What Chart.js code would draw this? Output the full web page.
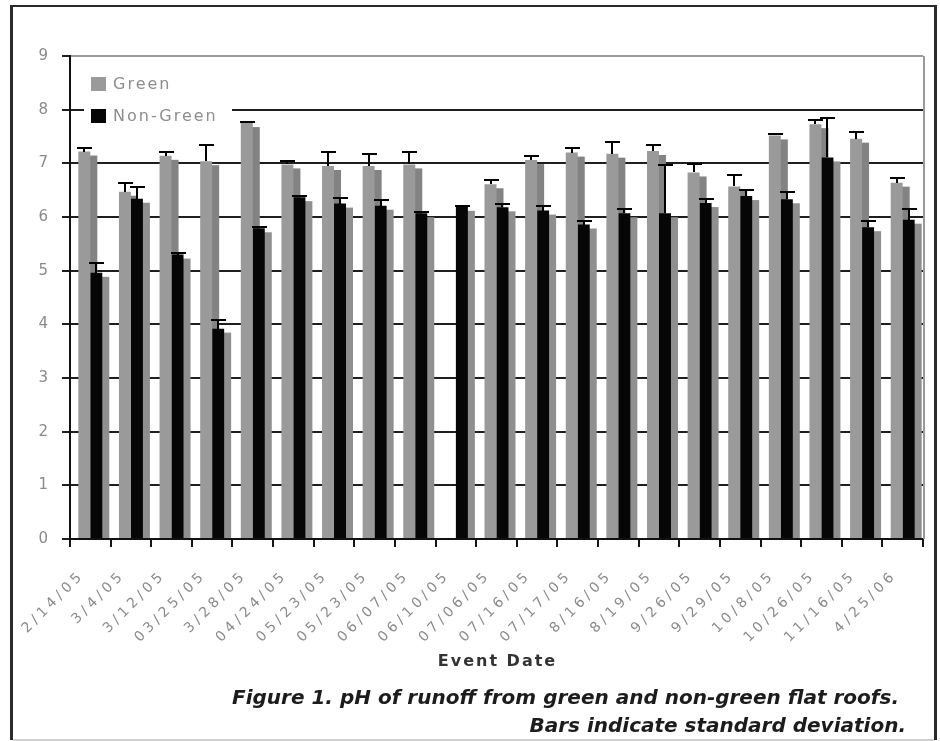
<!DOCTYPE html>
<html>
<head>
<meta charset="utf-8">
<script src="https://cdn.jsdelivr.net/npm/chart.js@4.4.1/dist/chart.umd.min.js"></script>
<style>
html,body{margin:0;padding:0;background:#fff;overflow:hidden}
#wrap{position:relative;width:940px;height:741px}
</style>
</head>
<body>
<div id="wrap"><canvas id="c"></canvas></div>
<script>
// ---- data ----
const categories = ['2/14/05','3/4/05','3/12/05','03/25/05','3/28/05','04/24/05','05/23/05','05/23/05','06/07/05','06/10/05','07/06/05','07/16/05','07/17/05','8/16/05','8/19/05','9/26/05','9/29/05','10/8/05','10/26/05','11/16/05','4/25/06'];
const greenPH    = [7.22, 6.47, 7.14, 7.04, 7.75, 6.98, 6.95, 6.95, 6.98, null, 6.61, 7.06, 7.20, 7.18, 7.23, 6.83, 6.57, 7.52, 7.73, 7.46, 6.64];
const greenSD    = [0.06, 0.17, 0.08, 0.31, 0.02, 0.06, 0.27, 0.22, 0.24, null, 0.08, 0.08, 0.08, 0.22, 0.12, 0.16, 0.21, 0.03, 0.08, 0.13, 0.09];
const nonGreenPH = [4.96, 6.34, 5.30, 3.92, 5.79, 6.37, 6.25, 6.21, 6.07, 6.19, 6.18, 6.12, 5.86, 6.07, 6.07, 6.26, 6.39, 6.33, 7.11, 5.81, 5.95];
const nonGreenSD = [0.19, 0.21, 0.03, 0.17, 0.02, 0.02, 0.11, 0.11, 0.02, 0.02, 0.06, 0.08, 0.07, 0.08, 0.89, 0.07, 0.12, 0.13, 0.74, 0.12, 0.20];
const seriesNames = ['Green', 'Non-Green'];
const yMin = 0, yMax = 9, yStep = 1;
const xAxisTitle = 'Event Date';
const captionLines = ['Figure 1. pH of runoff from green and non-green flat roofs.', 'Bars indicate standard deviation.'];

// ---- styles ----
const FONT = "'DejaVu Sans', Verdana, sans-serif";
const barColors = ['#9a9a9a', '#060606'];
const shadowColors = ['#838383', '#8f8f8f'];
const SHADOW_DX = 7, SHADOW_DY = 4;
const TICK_SPACING = '4px';

const decoPlugin = {
  id: 'deco',
  beforeUpdate(chart) { chart.ctx.letterSpacing = TICK_SPACING; },
  beforeLayout(chart) { chart.ctx.letterSpacing = TICK_SPACING; },
  beforeDraw(chart) {
    const ctx = chart.ctx;
    ctx.save();
    ctx.letterSpacing = '0px';
    ctx.fillStyle = '#fff';
    ctx.fillRect(0, 0, chart.width, chart.height);
    ctx.restore();
    ctx.letterSpacing = TICK_SPACING;
  },
  beforeDatasetsDraw(chart) {
    const ctx = chart.ctx, a = chart.chartArea;
    ctx.save();
    ctx.letterSpacing = '0px';
    // plot area right border
    ctx.strokeStyle = '#9a9a9a';
    ctx.lineWidth = 2;
    ctx.beginPath();
    ctx.moveTo(a.right + 1, a.top);
    ctx.lineTo(a.right + 1, a.bottom);
    ctx.stroke();
    // legend (white box over the grid)
    const lx = a.left + 14, ly = a.top + 9;
    ctx.fillStyle = '#fff';
    ctx.fillRect(lx, ly, 148, 62);
    ctx.font = '16px ' + FONT;
    ctx.letterSpacing = '2px';
    ctx.textBaseline = 'middle';
    ctx.textAlign = 'left';
    chart.data.datasets.forEach((ds, di) => {
      const cy = a.top + 28 + di * 32;
      ctx.fillStyle = ds.backgroundColor;
      ctx.fillRect(a.left + 21, cy - 7, 15, 14);
      ctx.fillStyle = '#8e8e8e';
      ctx.fillText(ds.label, a.left + 43, cy + 1);
    });
    // 3D shadows of bars
    chart.data.datasets.forEach((ds, di) => {
      const meta = chart.getDatasetMeta(di);
      ctx.fillStyle = shadowColors[di];
      meta.data.forEach((bar, i) => {
        if (ds.data[i] == null) return;
        const w = bar.width;
        ctx.fillRect(bar.x - w / 2 + SHADOW_DX, bar.y + SHADOW_DY, w, bar.base - bar.y - SHADOW_DY);
      });
    });
    ctx.restore();
    ctx.letterSpacing = TICK_SPACING;
  },
  afterDatasetsDraw(chart) {
    const ctx = chart.ctx, ys = chart.scales.y;
    ctx.save();
    ctx.strokeStyle = '#000';
    ctx.lineWidth = 2;
    chart.data.datasets.forEach((ds, di) => {
      const meta = chart.getDatasetMeta(di);
      meta.data.forEach((bar, i) => {
        const v = ds.data[i], sd = ds.sd[i];
        if (v == null || sd == null) return;
        const top = Math.round(ys.getPixelForValue(v + sd));
        const cx = Math.round(bar.x);
        ctx.beginPath();
        ctx.moveTo(cx, Math.round(bar.y));
        ctx.lineTo(cx, top);
        ctx.moveTo(cx - 7, top);
        ctx.lineTo(cx + 8, top);
        ctx.stroke();
      });
    });
    ctx.restore();
  },
  afterDraw(chart) {
    const ctx = chart.ctx, a = chart.chartArea;
    ctx.save();
    // x axis title
    ctx.letterSpacing = '2px';
    ctx.font = 'bold 16px ' + FONT;
    ctx.fillStyle = '#333';
    ctx.textAlign = 'center';
    ctx.textBaseline = 'middle';
    ctx.fillText(xAxisTitle, (a.left + a.right) / 2 + 1, 662);
    // caption
    ctx.letterSpacing = '0px';
    ctx.font = 'italic bold 20px ' + FONT;
    ctx.fillStyle = '#1c1c1c';
    ctx.textAlign = 'right';
    ctx.textBaseline = 'alphabetic';
    ctx.fillText(captionLines[0], 899, 704);
    ctx.fillText(captionLines[1], 906, 732);
    // outer frame
    ctx.fillStyle = '#2a2a2a';
    ctx.fillRect(10, 5, 3, 735);
    ctx.fillRect(10, 5, 927, 2);
    ctx.fillRect(934, 5, 3, 735);
    ctx.fillStyle = '#cfcfcf';
    ctx.fillRect(13, 739, 921, 2);
    ctx.restore();
  }
};

new Chart(document.getElementById('c'), {
  type: 'bar',
  data: {
    labels: categories,
    datasets: [
      { label: seriesNames[0], data: greenPH, sd: greenSD, backgroundColor: barColors[0], borderWidth: 0,
        categoryPercentage: 0.59, barPercentage: 1.0 },
      { label: seriesNames[1], data: nonGreenPH, sd: nonGreenSD, backgroundColor: barColors[1], borderWidth: 0,
        categoryPercentage: 0.59, barPercentage: 1.0 }
    ]
  },
  options: {
    responsive: true,
    maintainAspectRatio: false,
    animation: false,
    devicePixelRatio: 1,
    layout: { padding: { left: 12, right: 17, top: 56, bottom: 69 } },
    plugins: {
      legend: { display: false },
      tooltip: { enabled: false },
      title: { display: false }
    },
    scales: {
      x: {
        afterFit(scale) { scale.height = 133; },
        grid: { display: true, drawOnChartArea: false, drawTicks: true, tickLength: 8, color: '#151515', lineWidth: 2 },
        border: { display: true, color: '#111', width: 2 },
        ticks: {
          autoSkip: false, maxRotation: 45, minRotation: 45,
          font: { family: FONT, size: 14 }, color: '#8a8a8a',
          padding: 20, labelOffset: -8
        }
      },
      y: {
        min: yMin, max: yMax,
        afterFit(scale) { scale.width = 58; },
        grid: {
          color: (c) => (c.tick && c.tick.value === yMax) ? '#9a9a9a' : '#1e1e1e',
          tickColor: '#1e1e1e',
          lineWidth: 2, tickLength: 8, drawTicks: true
        },
        border: { display: true, color: '#111', width: 2 },
        ticks: { stepSize: yStep, font: { family: FONT, size: 15 }, color: '#8a8a8a', padding: 10 }
      }
    }
  },
  plugins: [decoPlugin]
});
</script>
</body>
</html>
